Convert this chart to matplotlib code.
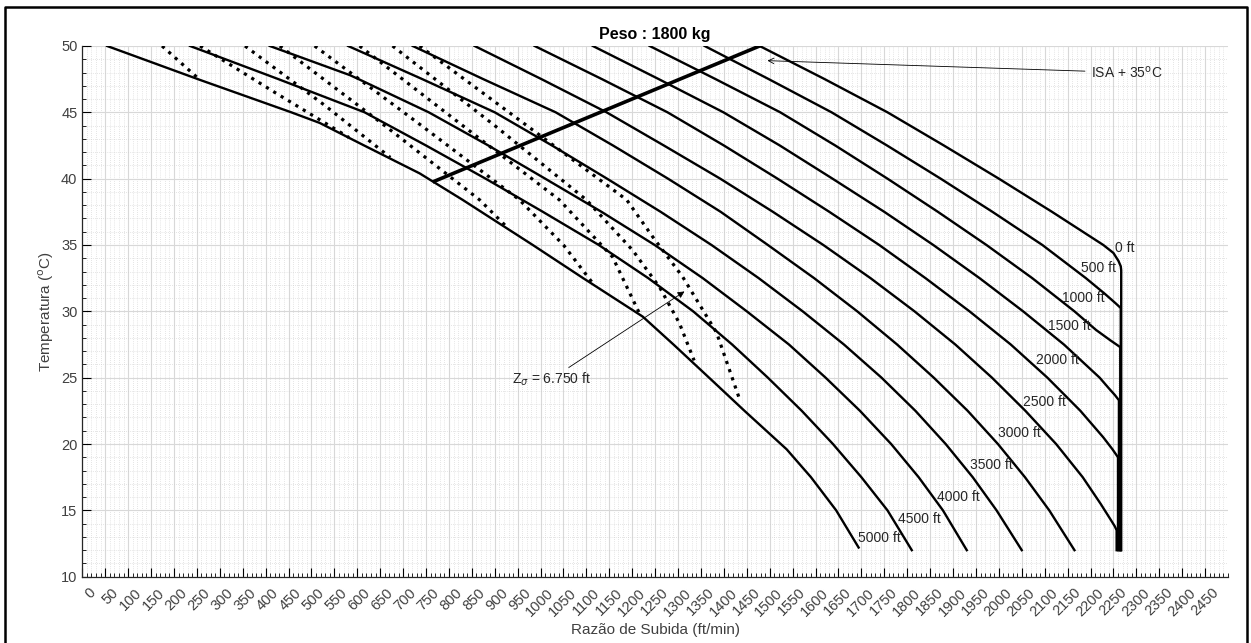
import matplotlib
matplotlib.use('Agg')
import matplotlib.pyplot as plt
from matplotlib.lines import Line2D
from matplotlib.ticker import MultipleLocator
import matplotlib.transforms as mtransforms

plt.rcParams['font.family'] = ['Liberation Sans', 'DejaVu Sans']

# curvas de altitude: temperatura (C) x razao de subida (ft/min)
T_0 = [50, 47.5, 45, 42.5, 40, 37.5, 35, 34.4, 33.8, 33.4, 33.1, 12]
R_0 = [1478, 1620, 1757, 1880, 2000, 2116, 2228, 2250, 2261, 2266, 2267, 2267]
T_500 = [50, 47.5, 45, 42.5, 40, 37.5, 35, 32.5, 31.3, 30.6, 30.25, 12]
R_500 = [1358, 1498, 1635, 1756, 1873, 1986, 2095, 2190, 2232, 2255, 2266,
         2266]
T_1000 = [50, 47.5, 45, 42.5, 40, 37.5, 35, 32.5, 30, 28.6, 27.8, 27.3, 12]
R_1000 = [1238, 1382, 1523, 1643, 1757, 1867, 1973, 2073, 2165, 2212, 2244,
          2265, 2265]
T_1500 = [50, 47.5, 45, 42.5, 40, 37.5, 35, 32.5, 30, 27.5, 25, 24.2, 23.7,
          23.3, 12]
R_1500 = [1114, 1258, 1399, 1522, 1637, 1750, 1857, 1958, 2053, 2142, 2220,
          2240, 2253, 2262, 2262]
T_2000 = [50, 47.5, 45, 42.5, 40, 37.5, 35, 32.5, 30, 27.5, 25, 22.5, 20.5,
          19.6, 19.2, 19.0, 12]
R_2000 = [987, 1134, 1277, 1400, 1517, 1630, 1739, 1840, 1936, 2026, 2106,
          2178, 2228, 2248, 2256, 2260, 2260]
T_2500 = [50, 47.5, 45, 42.5, 40, 37.5, 35, 32.5, 30, 27.5, 25, 22.5, 20,
          17.5, 15.5, 14.3, 13.8, 13.5, 12]
R_2500 = [856, 1002, 1144, 1269, 1392, 1507, 1617, 1720, 1816, 1905, 1985,
          2058, 2125, 2183, 2222, 2244, 2253, 2257, 2257]
T_3000 = [50, 47.5, 45, 42.5, 40, 37.5, 35, 32.5, 30, 27.5, 25, 22.5, 20,
          17.5, 15, 12]
R_3000 = [721, 875, 1033, 1158, 1278, 1393, 1496, 1597, 1691, 1778, 1858,
          1932, 1998, 2057, 2110, 2165]
T_3500 = [50, 47.5, 45, 42.5, 40, 37.5, 35, 32.5, 30, 27.5, 25, 22.5, 20,
          17.5, 15, 12]
R_3500 = [580, 742, 900, 1025, 1145, 1262, 1373, 1476, 1572, 1662, 1744,
          1818, 1884, 1943, 1995, 2050]
T_4000 = [50, 47.8, 47.5, 45, 42.5, 40, 37.5, 35, 32.5, 30, 27.5, 25, 22.5,
          20, 17.5, 15, 12]
R_4000 = [409, 584, 603, 756, 886, 1010, 1133, 1249, 1354, 1450, 1542, 1622,
          1697, 1765, 1825, 1878, 1930]
T_4500 = [50, 47.5, 45, 42.5, 40, 37.5, 35, 32.5, 30, 27.5, 25, 22.5, 20,
          17.5, 15, 12]
R_4500 = [235, 428, 616, 750, 880, 1005, 1127, 1235, 1333, 1418, 1496, 1570,
          1638, 1700, 1757, 1810]
T_5000 = [50, 47.44, 45, 44.2, 42.5, 40.4, 38.4, 35, 32.5, 29.6, 27.5, 24.7,
          22.5, 19.6, 17.5, 15, 12.2]
R_5000 = [54, 257, 456, 518, 615, 736, 830, 983, 1093, 1223, 1290, 1377,
          1445, 1537, 1590, 1645, 1694]

alt_names = ['0 ft', '500 ft', '1000 ft', '1500 ft', '2000 ft', '2500 ft',
             '3000 ft', '3500 ft', '4000 ft', '4500 ft', '5000 ft']
label_R = [2253, 2180, 2138, 2107, 2082, 2052, 1998, 1936, 1866, 1779, 1692]
label_T = [34.8, 33.3, 31.0, 28.9, 26.3, 23.2, 20.8, 18.4, 16.0, 14.35, 12.9]

# linhas pontilhadas
DT_1 = [50, 47.4]
DR_1 = [174, 258]
DT_2 = [50, 46.5, 43.1]
DR_2 = [257, 420, 582]
DT_3 = [50, 45.5, 41.6]
DR_3 = [355, 530, 672]
DT_4 = [50, 44, 38.4, 36.4]
DR_4 = [431, 660, 867, 925]
DT_5 = [50, 44, 38.4, 35.0, 32.2]
DR_5 = [507, 740, 954, 1050, 1112]
DT_6 = [50, 44, 38.4, 34.1, 29.9]
DR_6 = [605, 830, 1041, 1157, 1215]
DT_7 = [50, 44, 38.4, 34.6, 31.8, 29.1, 26.3]
DR_7 = [677, 900, 1100, 1201, 1260, 1303, 1335]
DT_8 = [50, 44, 38.4, 35.6, 32.6, 28.4, 23.3]
DR_8 = [736, 970, 1188, 1245, 1310, 1384, 1435]

# ISA + 35
ISA_T = [39.8, 50]
ISA_R = [768, 1478]

fig = plt.figure(figsize=(12.51, 6.43), dpi=100)
ax = fig.add_axes([0.0658, 0.1031, 0.9158, 0.8254])

curves = [(R_0, T_0), (R_500, T_500), (R_1000, T_1000), (R_1500, T_1500),
          (R_2000, T_2000), (R_2500, T_2500), (R_3000, T_3000),
          (R_3500, T_3500), (R_4000, T_4000), (R_4500, T_4500),
          (R_5000, T_5000)]
for r, t in curves:
    ax.plot(r, t, color='black', lw=1.7, solid_joinstyle='round', zorder=3)

dotted = [(DR_1, DT_1), (DR_2, DT_2), (DR_3, DT_3), (DR_4, DT_4),
          (DR_5, DT_5), (DR_6, DT_6), (DR_7, DT_7), (DR_8, DT_8)]
for r, t in dotted:
    ax.plot(r, t, color='black', lw=2.3, ls=(0, (1, 1.7)), zorder=3)

ax.plot(ISA_R, ISA_T, color='black', lw=2.6, zorder=4)

for name, r, t in zip(alt_names, label_R, label_T):
    ax.text(r, t, name, fontsize=10, color='#262626', ha='left',
            va='center', zorder=5)

ax.annotate('ISA + 35$^{\\mathrm{o}}$C', xy=(1489, 48.9), xytext=(2200, 48.0),
            fontsize=10, color='#262626', va='center', ha='left',
            arrowprops=dict(arrowstyle='->', color='black', lw=0.6))
ax.annotate('Z$_{\\sigma}$ = 6.750 ft', xy=(1314, 31.5), xytext=(937, 24.9),
            fontsize=10, color='#262626', va='center', ha='left',
            arrowprops=dict(arrowstyle='-|>', color='black', lw=0.6,
                            mutation_scale=10, shrinkA=0, shrinkB=0))

ax.set_xlim(0, 2500)
ax.set_ylim(10, 50)
ax.set_xticks(range(0, 2500, 50))
ax.set_yticks(range(10, 55, 5))
ax.xaxis.set_minor_locator(MultipleLocator(10))
ax.yaxis.set_minor_locator(MultipleLocator(1))
ax.tick_params(which='major', direction='in', length=6.5, width=0.8,
               labelsize=10.5, labelcolor='#404040')
ax.tick_params(which='minor', direction='in', length=3.2, width=0.6)
ax.tick_params(axis='x', labelrotation=45)
offset = mtransforms.ScaledTranslation(6 / 100, -4 / 100, fig.dpi_scale_trans)
for lab in ax.get_xticklabels():
    lab.set_ha('right')
    lab.set_rotation_mode('anchor')
    lab.set_transform(lab.get_transform() + offset)

ax.grid(which='major', color='#d8d8d8', lw=0.8)
ax.grid(which='minor', color='#cccccc', lw=0.5, ls=(0, (1, 2)))
ax.set_axisbelow(True)
for s in ['top', 'right']:
    ax.spines[s].set_visible(False)
for s in ['left', 'bottom']:
    ax.spines[s].set_linewidth(0.9)
    ax.spines[s].set_color('#262626')

ax.set_title('Peso : 1800 kg', fontsize=11.5, fontweight='bold', pad=5)
ax.set_xlabel('Razão de Subida (ft/min)', fontsize=11, color='#404040',
              labelpad=3)
ax.set_ylabel('Temperatura ($^{\\mathrm{o}}$C)', fontsize=11,
              color='#404040', labelpad=4)

# moldura da figura
fig.add_artist(Line2D([5 / 1251, 5 / 1251, 1247 / 1251, 1247 / 1251],
                      [0, 1 - 7 / 643, 1 - 7 / 643, 0],
                      transform=fig.transFigure, color='black', lw=1.8))

fig.savefig('out.png', dpi=100, facecolor='white')
